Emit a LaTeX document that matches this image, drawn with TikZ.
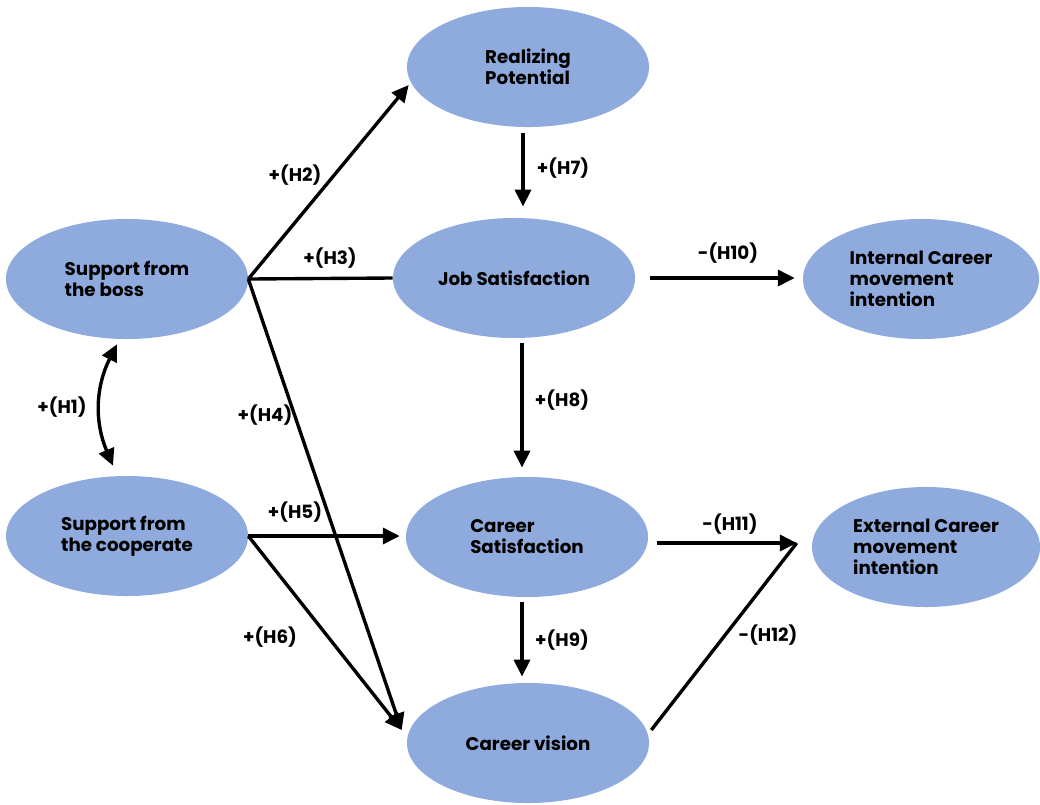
\documentclass[tikz,border=0pt]{standalone}
\usepackage{fontspec}
\setmainfont{Poppins}
\usepackage{xcolor}
\usepackage{tikz}
\usetikzlibrary{shapes.geometric,arrows.meta,calc}

\definecolor{bubble}{RGB}{143,170,220}

\tikzset{
	construct/.style={ellipse, fill=bubble, minimum width=6.05cm, minimum height=3.0cm,
		inner sep=0pt, align=left, font=\fontsize{13}{15}\selectfont\bfseries},
	hyp/.style={font=\fontsize{13}{15}\selectfont\bfseries},
	path/.style={line width=2.4pt, -{Triangle[width=4mm,length=4.2mm]}},
	plain/.style={line width=2.4pt}
}

\begin{document}
\begin{tikzpicture}[x=0.025cm, y=-0.025cm]
	\useasboundingbox (0,0) rectangle (1040,804);
	% constructs
	\node[construct] (rp) at (528,67) {Realizing\\Potential};
	\node[construct] (boss) at (127,279) {Support from\\the boss};
	\node[construct] (js) at (514,278) {Job Satisfaction};
	\node[construct, minimum width=5.9cm] (ici) at (921,279) {Internal Career\\movement\\intention};
	\node[construct] (coop) at (127,536) {Support from\\the cooperate};
	\node[construct] (cs) at (527,537) {Career\\Satisfaction};
	\node[construct, minimum width=5.7cm] (eci) at (926,547) {External Career\\movement\\intention};
	\node[construct] (cv) at (528,743) {Career vision};

	% end points
	\coordinate (rpin) at ([shift={(2,18)}]rp.west);
	\coordinate (cvin) at ([shift={(-5,-13)}]cv.west);
	\coordinate (cvout) at ([shift={(2,-13)}]cv.east);
	\coordinate (eciin) at ([shift={(-15,-4)}]eci.west);

	% boss
	\draw[path] (boss.east) -- (rpin);
	\draw[plain] (boss.east) -- (js.west);
	\draw[path] (boss.east) -- (cvin);
	% cooperate
	\draw[path, shorten >=1.5mm] (coop.east) -- (cs.west |- coop.east);
	\draw[path] (coop.east) -- (cvin);
	% H1
	\draw[line width=2.4pt, {Triangle[width=4mm,length=4.2mm]}-{Triangle[width=4mm,length=4.2mm]}]
		([shift={(-10,5)}]boss.south) to[bend right=25] ([shift={(-14,-10)}]coop.north);
	% vertical
	\draw[path, shorten <=1.3mm, shorten >=2.8mm] (rp.south -| rp.south) ++(-5,0) -- ($(js.north)+(9,0)$);
	\draw[path, shorten <=1.2mm, shorten >=2.3mm] ($(js.south)+(8,0)$) -- ($(cs.north)+(-5,0)$);
	\draw[path, shorten <=1.2mm, shorten >=0.8mm] ($(cs.south)+(-5,0)$) -- ($(cv.north)+(-6,-3)$);
	% outcomes
	\draw[path, shorten <=3.7mm, shorten >=2mm] (js.east) -- (ici.west |- js.east);
	\draw[path, shorten <=2.2mm] (cs.east |- eciin) -- (eciin);
	\draw[plain] (cvout) -- (eciin);

	% labels
	\node[hyp] (h1) at (62,407) {+(H1)};
	\node[hyp] (h2) at (295,175) {+(H2)};
	\node[hyp] (h3) at (330,258) {+(H3)};
	\node[hyp] (h4) at (265,415) {+(H4)};
	\node[hyp] (h5) at (295,512) {+(H5)};
	\node[hyp] (h6) at (270,637) {+(H6)};
	\node[hyp] (h7) at (563,168) {+(H7)};
	\node[hyp] (h8) at (562,400) {+(H8)};
	\node[hyp] (h9) at (562,640) {+(H9)};
	\node[hyp] (h10) at (728,253) {-(H10)};
	\node[hyp] (h11) at (730,524) {-(H11)};
	\node[hyp] (h12) at (768,635) {-(H12)};
\end{tikzpicture}
\end{document}
